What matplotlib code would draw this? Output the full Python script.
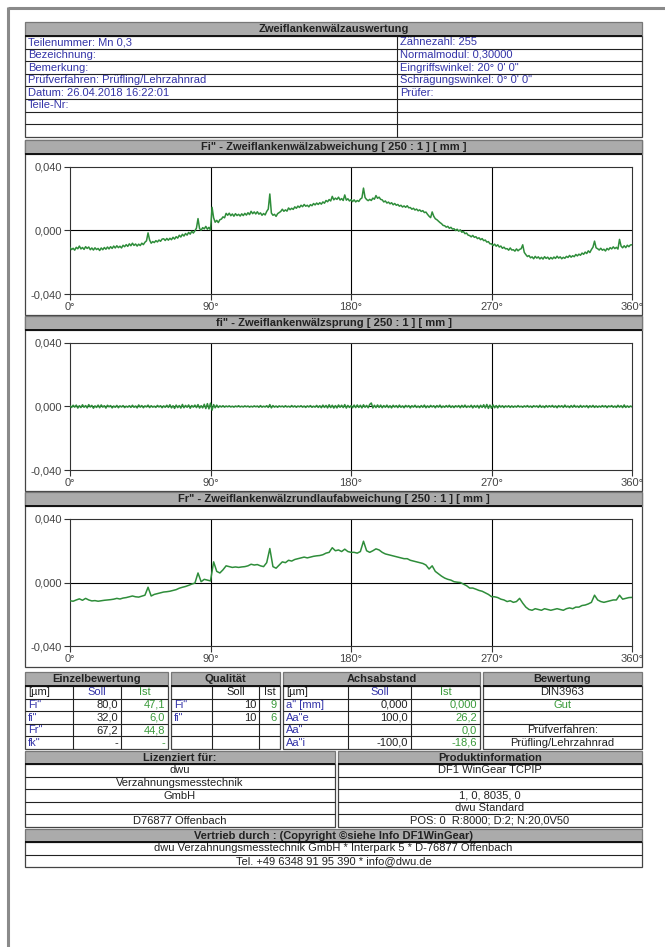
import numpy as np
import matplotlib.pyplot as plt
from matplotlib.patches import Rectangle

W, H = 665, 947

# Messwerte in µm
angle_fine = np.arange(0, 361, 1)
angle_coarse = np.arange(0, 361, 2)

# Fi" - Zweiflankenwälzabweichung, 1° Schritte
fi_total = [
    -10.8, -12.0, -11.2, -12.4, -10.6, -11.5, -9.8, -11.6, -10.7, -11.9,
    -10.2, -11.3, -10.4, -12.1, -11.0, -12.3, -10.9, -12.0, -11.3, -12.6,
    -11.0, -12.1, -10.7, -11.8, -10.4, -11.6, -10.2, -11.3, -9.8, -11.0,
    -9.6, -10.8, -9.9, -11.0, -9.3, -10.2, -8.9, -10.0, -8.4, -9.6,
    -8.0, -9.4, -8.5, -9.8, -8.6, -9.5, -8.0, -8.9, -7.4, -6.5,
    -1.5, -6.0, -8.0, -7.0, -7.6, -6.4, -7.2, -6.0, -6.8, -5.4,
    -5.2, -6.3, -5.0, -6.1, -4.9, -5.8, -4.3, -5.4, -3.9, -4.8,
    -3.0, -4.1, -2.4, -3.5, -1.9, -2.9, -1.2, -2.3, -0.5, -1.6,
    -0.2, 1.5, 7.5, 1.2, 0.2, 1.8, 1.0, 2.6, 0.8, 2.0,
    0.3, 14.6, 8.0, 5.2, 6.4, 5.0, 6.8, 7.2, 8.6, 8.0,
    10.8, 9.6, 10.9, 9.3, 10.4, 9.0, 10.6, 9.4, 10.2, 9.1,
    10.5, 9.4, 10.8, 9.7, 11.2, 10.0, 12.1, 10.6, 11.7, 10.4,
    11.8, 10.3, 11.1, 9.6, 10.7, 9.8, 12.0, 13.5, 23.0, 11.0,
    9.6, 10.2, 8.9, 10.6, 11.3, 12.0, 13.4, 12.1, 13.0, 12.2,
    14.2, 13.1, 14.0, 13.3, 14.9, 14.0, 15.4, 14.5, 15.9, 15.0,
    16.4, 15.3, 15.9, 14.9, 16.3, 15.6, 17.0, 16.1, 17.3, 16.4,
    17.5, 16.6, 18.0, 17.2, 18.9, 18.1, 19.5, 18.6, 21.5, 19.3,
    20.4, 19.6, 21.0, 19.2, 20.1, 18.9, 22.4, 19.1, 20.0, 18.6,
    19.4, 18.2, 19.3, 18.0, 18.9, 18.3, 19.8, 20.5, 26.7, 20.8,
    19.5, 18.8, 19.6, 18.9, 20.4, 19.7, 22.0, 20.3, 21.0, 19.6,
    19.3, 18.0, 18.6, 17.3, 17.9, 16.8, 17.5, 16.2, 17.0, 15.9,
    16.4, 15.3, 15.9, 14.8, 15.5, 14.6, 15.6, 14.3, 14.5, 13.4,
    14.0, 12.9, 13.5, 12.4, 13.0, 12.0, 12.5, 11.3, 11.6, 10.2,
    9.0, 8.1, 11.7, 9.0, 7.4, 6.8, 5.9, 5.0, 4.3, 3.2,
    3.0, 2.1, 2.6, 1.4, 2.0, 0.9, 1.1, 0.0, 0.8, -0.4,
    0.4, -1.1, -0.6, -2.0, -1.6, -2.9, -3.2, -4.0, -3.1, -4.3,
    -3.9, -5.1, -4.6, -5.8, -5.1, -6.4, -6.0, -7.3, -7.0, -8.4,
    -8.4, -9.5, -8.6, -9.9, -9.0, -10.4, -9.8, -11.2, -10.5, -11.6,
    -11.4, -12.4, -11.0, -12.3, -12.1, -13.0, -11.6, -12.8, -11.9, -11.5,
    -9.0, -13.8, -15.2, -16.4, -15.8, -17.2, -16.6, -17.8, -16.3, -17.4,
    -16.6, -17.9, -16.9, -18.0, -16.5, -17.6, -16.8, -18.1, -17.0, -17.9,
    -16.7, -17.6, -16.2, -17.4, -16.6, -17.8, -16.9, -17.5, -16.3, -17.0,
    -15.7, -16.8, -15.9, -16.5, -15.1, -16.0, -14.9, -15.6, -14.2, -15.0,
    -13.6, -14.5, -12.8, -13.9, -12.0, -10.5, -6.7, -10.9, -11.5, -12.3,
    -11.2, -12.4, -11.8, -12.9, -11.3, -12.2, -10.8, -11.6, -10.3, -11.4,
    -10.6, -11.7, -5.6, -9.8, -10.9, -9.6, -10.8, -9.3, -10.2, -9.1,
    -9.0,
]

# fi" - Zweiflankenwälzsprung, 1° Schritte
fi_jump = [
    0.3, -0.6, 0.8, -0.4, 0.9, -1.0, 0.5, -0.7, 1.1, -0.5,
    0.6, -0.9, 1.2, -0.3, 0.7, -1.1, 0.4, -0.6, 0.9, -0.8,
    1.0, -0.4, 0.5, -1.0, 0.8, -0.2, 0.6, -0.9, 0.3, -0.5,
    0.7, -0.8, 0.4, -0.3, 0.6, -0.7, 0.2, -0.4, 0.5, -0.6,
    0.8, -0.5, 0.3, -0.9, 1.0, -0.4, 0.6, -0.8, 0.4, -0.3,
    0.9, -0.7, 0.5, -0.4, 0.2, -0.6, 0.7, -0.3, 0.5, -0.8,
    0.4, -0.5, 0.8, -0.6, 1.1, -0.9, 0.5, -1.2, 0.9, -0.7,
    0.6, -1.0, 1.3, -0.8, 0.7, -0.5, 1.0, -1.1, 0.6, -0.4,
    0.9, -0.7, 1.2, -1.0, 0.5, -0.9, 1.4, -1.3, 1.8, -1.5,
    2.1, -2.3, 1.2, -0.8, 0.9, -0.6, 0.4, -0.3, 0.5, -0.4,
    0.3, -0.2, 0.4, -0.3, 0.2, -0.4, 0.3, -0.2, 0.5, -0.3,
    0.2, -0.3, 0.4, -0.2, 0.3, -0.4, 0.2, -0.3, 0.4, -0.2,
    0.3, -0.5, 0.6, -0.4, 0.2, -0.3, 0.5, -0.6, 1.2, -0.9,
    0.6, -0.4, 0.3, -0.5, 0.4, -0.2, 0.3, -0.4, 0.5, -0.3,
    0.2, -0.4, 0.6, -0.3, 0.4, -0.5, 0.3, -0.2, 0.5, -0.4,
    0.3, -0.6, 0.4, -0.3, 0.6, -0.5, 0.2, -0.4, 0.7, -0.6,
    0.5, -0.8, 0.9, -0.6, 0.7, -0.9, 1.1, -0.7, 0.8, -1.0,
    0.6, -0.9, 1.0, -0.5, 0.8, -0.7, 1.2, -1.0, 0.7, -0.6,
    0.5, -0.8, 0.9, -0.7, 1.0, -0.6, 0.8, -0.9, 1.1, -0.5,
    0.7, -0.8, 1.3, 2.2, -0.9, 0.8, -0.7, 1.0, -0.6, 0.9,
    -0.8, 0.6, -0.5, 0.9, -0.7, 0.5, -0.9, 0.8, -0.4, 0.6,
    -0.7, 0.9, -0.5, 0.4, -0.8, 0.7, -0.3, 0.6, -0.9, 0.5,
    -0.4, 0.8, -0.6, 0.3, -0.7, 0.6, -0.5, 0.9, -0.8, 0.4,
    -0.6, 0.7, -0.3, 0.5, -0.8, 0.6, -0.4, 0.9, -0.7, 0.3,
    -0.5, 0.6, -0.4, 0.8, -0.6, 0.4, -0.7, 0.5, -0.3, 0.6,
    -0.8, 0.7, -0.5, 0.9, -0.6, 0.3, -0.4, 0.8, -0.9, 0.6,
    -0.5, 0.7, -1.0, 0.8, -0.6, 1.1, -0.9, 1.3, -1.2, 0.9,
    -1.1, 1.0, -0.8, 0.6, -0.9, 0.7, -0.4, 0.5, -0.7, 0.4,
    -0.3, 0.5, -0.6, 0.4, -0.5, 0.3, -0.4, 0.6, -0.3, 0.2,
    -0.5, 0.4, -0.3, 0.6, -0.4, 0.3, -0.6, 0.5, -0.2, 0.4,
    -0.6, 0.8, -0.5, 0.3, -0.7, 0.6, -0.4, 0.5, -0.3, 0.7,
    -0.5, 0.4, -0.8, 0.6, -0.3, 0.5, -0.6, 0.9, -0.4, 0.3,
    -0.7, 0.6, -0.5, 0.8, -0.4, 0.3, -0.6, 0.7, -0.5, 0.4,
    -0.3, 0.6, -0.8, 0.5, -0.4, 0.7, -0.6, 0.4, -0.5, 0.3,
    -0.4, 0.6, -0.3, 0.5, -0.7, 0.4, -0.2, 0.6, -0.5, 0.3,
    -0.6, 0.8, -0.4, 0.5, -0.7, 1.0, -0.6, 0.4, -0.5, 0.3,
    -0.2,
]

# Fr" - Zweiflankenwälzrundlaufabweichung, 2° Schritte
fr_runout = [
    -11.5, -11.8, -11.0, -10.3, -11.2, -10.0, -11.0, -11.6, -11.4, -11.8,
    -11.5, -11.2, -11.0, -10.8, -10.5, -10.0, -10.4, -9.8, -9.5, -9.0,
    -8.5, -9.0, -9.2, -8.6, -8.0, -3.0, -8.5, -7.5, -7.0, -6.5,
    -6.0, -5.8, -5.5, -5.0, -4.5, -3.6, -3.0, -2.5, -1.8, -1.0,
    -0.4, 6.0, 0.5, 2.0, 1.5, 1.0, 13.0, 7.0, 6.0, 8.0,
    10.5, 10.0, 9.5, 9.8, 9.5, 9.8, 10.0, 10.5, 11.5, 11.0,
    11.3, 10.5, 10.0, 12.5, 21.4, 10.0, 9.0, 11.0, 13.0, 12.5,
    14.0, 13.5, 14.5, 15.0, 15.5, 16.0, 15.5, 16.0, 16.5, 16.8,
    17.0, 17.5, 18.5, 19.0, 21.9, 20.0, 20.5, 19.5, 21.0, 19.5,
    19.0, 19.0, 18.5, 19.5, 26.0, 20.0, 19.0, 20.0, 21.2, 20.5,
    19.0, 18.0, 17.5, 17.0, 16.5, 16.0, 15.5, 15.0, 15.0, 14.0,
    13.5, 13.0, 12.5, 12.0, 11.0, 8.5, 10.5, 7.0, 5.5, 4.0,
    2.8, 2.0, 1.5, 0.5, 0.2, 0.0, -1.0, -2.0, -3.5, -3.5,
    -4.2, -5.0, -5.5, -6.5, -7.5, -8.9, -9.0, -9.5, -10.5, -11.0,
    -12.0, -11.5, -12.5, -12.0, -10.0, -13.0, -15.5, -17.0, -17.5, -16.5,
    -17.0, -17.5, -16.5, -17.0, -17.5, -17.0, -16.5, -17.0, -17.5, -16.5,
    -16.0, -16.5, -15.5, -15.5, -14.5, -14.2, -13.5, -12.5, -8.0, -11.0,
    -12.0, -12.5, -12.0, -11.5, -11.0, -11.0, -8.0, -10.5, -10.0, -9.5,
    -9.4,
]

chart_titles = [
    'Fi" - Zweiflankenwälzabweichung [ 250 : 1 ] [ mm ]',
    'fi" - Zweiflankenwälzsprung [ 250 : 1 ] [ mm ]',
    'Fr" - Zweiflankenwälzrundlaufabweichung [ 250 : 1 ] [ mm ]',
]
angle_ticks = [0, 90, 180, 270, 360]
angle_labels = ['0°', '90°', '180°', '270°', '360°']
dev_ticks = [-0.04, 0.0, 0.04]
dev_labels = ['-0,040', '0,000', '0,040']

report_title = 'Zweiflankenwälzauswertung'
info_left = ['Teilenummer: Mn 0,3', 'Bezeichnung:', 'Bemerkung:',
             'Prüfverfahren: Prüfling/Lehrzahnrad', 'Datum: 26.04.2018 16:22:01',
             'Teile-Nr:', '', '']
info_right = ['Zähnezahl: 255', 'Normalmodul: 0,30000', 'Eingriffswinkel: 20° 0\' 0"',
              'Schrägungswinkel: 0° 0\' 0"', 'Prüfer:', '', '', '']

einzel_rows = [['[µm]', 'Soll', 'Ist'], ['Fi"', '80,0', '47,1'], ['fi"', '32,0', '6,0'],
               ['Fr"', '67,2', '44,8'], ['fk"', '-', '-']]
qualitaet_rows = [['', 'Soll', 'Ist'], ['Fi"', '10', '9'], ['fi"', '10', '6'],
                  ['', '', ''], ['', '', '']]
achs_rows = [['[µm]', 'Soll', 'Ist'], ['a" [mm]', '0,000', '0,000'], ['Aa"e', '100,0', '26,2'],
             ['Aa"', '', '0,0'], ['Aa"i', '-100,0', '-18,6']]
bewertung_rows = ['DIN3963', 'Gut', '', 'Prüfverfahren:', 'Prüfling/Lehrzahnrad']
lizenz_rows = ['dwu', 'Verzahnungsmesstechnik', 'GmbH', '', 'D76877 Offenbach']
produkt_rows = ['DF1 WinGear TCPIP', '', '1, 0, 8035, 0', 'dwu Standard',
                'POS: 0  R:8000; D:2; N:20,0V50']
vertrieb_rows = ['dwu Verzahnungsmesstechnik GmbH * Interpark 5 * D-76877 Offenbach',
                 'Tel. +49 6348 91 95 390 * info@dwu.de']

BLUE = '#3434a8'
GREEN = '#3a9a3a'
BLACK = '#222222'
TRACE = '#2e8d3a'
BAR = '#ababab'
FONT = ['Liberation Sans', 'DejaVu Sans']
FS = 8

fig = plt.figure(figsize=(W / 100, H / 100), dpi=100)
bg = fig.add_axes([0, 0, 1, 1])
bg.set_xlim(0, W)
bg.set_ylim(H, 0)
bg.axis('off')


def txt(x, y, s, ha='left', color=BLACK, bold=False, size=FS):
    if s:
        bg.text(x, y, s, ha=ha, va='center', color=color, fontsize=size,
                fontweight='bold' if bold else 'normal', family=FONT)


def box(x0, y0, x1, y1, fc='white', ec='#444444', lw=0.9):
    bg.add_patch(Rectangle((x0, y0), x1 - x0, y1 - y0, facecolor=fc, edgecolor=ec, lw=lw))


def hline(x0, x1, y, c=BLACK, lw=0.8):
    bg.plot([x0, x1], [y, y], color=c, lw=lw, solid_capstyle='butt')


def vline(x, y0, y1, c=BLACK, lw=0.8):
    bg.plot([x, x], [y0, y1], color=c, lw=lw, solid_capstyle='butt')


def header(x0, x1, y0, y1, s):
    box(x0, y0, x1, y1, fc=BAR, ec='#777777')
    hline(x0, x1, y1, c='#111111', lw=1.4)
    txt((x0 + x1) / 2, (y0 + y1) / 2, s, ha='center', bold=True)


# Seitenrand
hline(8, W, 7.5, c='#8a8a8a', lw=2.2)
vline(8, 7, H, c='#8a8a8a', lw=2.2)

L, R = 25, 642

# Kopf mit Teiledaten
header(L, R, 22, 36, report_title)
row_h = 12.6
box(L, 36, R, 36 + 8 * row_h)
vline(397, 36, 36 + 8 * row_h)
for i in range(8):
    y = 36 + i * row_h
    if i:
        hline(L, R, y)
    txt(L + 3, y + row_h / 2, info_left[i], color=BLUE)
    txt(400, y + row_h / 2, info_right[i], color=BLUE)

# Diagramme
series = [(angle_fine, fi_total), (angle_fine, fi_jump), (angle_coarse, fr_runout)]
for k, (ang, vals) in enumerate(series):
    top = 140 + k * 176
    box(L, top, R, top + 175)
    header(L, R, top, top + 14, chart_titles[k])
    ax0, ax1, ay0, ay1 = 70, 632, top + 27, top + 154
    ax = fig.add_axes([ax0 / W, 1 - ay1 / H, (ax1 - ax0) / W, (ay1 - ay0) / H])
    ax.set_facecolor('white')
    ax.plot(ang, np.array(vals) / 1000, color=TRACE, lw=1.1, zorder=3)
    for a in angle_ticks[1:-1]:
        ax.axvline(a, color='black', lw=0.8, zorder=2)
    ax.axhline(0, color='black', lw=0.8, zorder=2)
    ax.set_xlim(0, 360)
    ax.set_ylim(-0.04, 0.04)
    ax.set_xticks(angle_ticks)
    ax.set_xticklabels(angle_labels)
    ax.set_yticks(dev_ticks)
    ax.set_yticklabels(dev_labels)
    ax.tick_params(direction='out', length=4, width=0.8, colors='#333333',
                   labelsize=FS, pad=2)
    for lab in ax.get_xticklabels() + ax.get_yticklabels():
        lab.set_family(FONT)
        lab.set_color('#444444')
    for sp in ax.spines.values():
        sp.set_color('#333333')
        sp.set_linewidth(0.8)

# Auswertungstabellen
ty0, ty1 = 672, 686
rh = 12.6


def table(cols, title, rows, styles):
    header(cols[0], cols[-1], ty0, ty1, title)
    box(cols[0], ty1, cols[-1], ty1 + 5 * rh)
    for c in cols[1:-1]:
        vline(c, ty1, ty1 + 5 * rh)
    for i, row in enumerate(rows):
        y = ty1 + i * rh
        if i:
            hline(cols[0], cols[-1], y)
        for j, s in enumerate(row):
            color = styles[i][j]
            if j == 0:
                txt(cols[0] + 3, y + rh / 2, s, color=color)
            elif i == 0:
                txt((cols[j] + cols[j + 1]) / 2, y + rh / 2, s, ha='center', color=color)
            else:
                txt(cols[j + 1] - 3, y + rh / 2, s, ha='right', color=color)


einz_styles = [[BLACK, BLUE, GREEN]] + [[BLUE, BLACK, GREEN]] * 4
table([25, 73, 121, 168], 'Einzelbewertung', einzel_rows, einz_styles)
qual_styles = [[BLACK, BLACK, BLACK]] + [[BLUE, BLACK, GREEN]] * 4
table([171, 212, 259, 280], 'Qualität', qualitaet_rows, qual_styles)
achs_styles = [[BLACK, BLUE, GREEN]] + [[BLUE, BLACK, GREEN]] * 4
table([283, 348, 411, 480], 'Achsabstand', achs_rows, achs_styles)

header(483, R, ty0, ty1, 'Bewertung')
box(483, ty1, R, ty1 + 5 * rh)
for i, s in enumerate(bewertung_rows):
    y = ty1 + i * rh
    if i:
        hline(483, R, y)
    txt((483 + R) / 2, y + rh / 2, s, ha='center', color=GREEN if s == 'Gut' else BLACK)

# Lizenz und Produktinformation
ly0, ly1 = 751, 764
for (x0, x1), title, rows in [((L, 335), 'Lizenziert für:', lizenz_rows),
                              ((338, R), 'Produktinformation', produkt_rows)]:
    header(x0, x1, ly0, ly1, title)
    box(x0, ly1, x1, ly1 + 5 * rh)
    for i, s in enumerate(rows):
        y = ly1 + i * rh
        if i:
            hline(x0, x1, y)
        txt((x0 + x1) / 2, y + rh / 2, s, ha='center')

vy0, vy1 = 829, 842
header(L, R, vy0, vy1, 'Vertrieb durch : (Copyright ©siehe Info DF1WinGear)')
box(L, vy1, R, vy1 + 2 * rh)
for i, s in enumerate(vertrieb_rows):
    y = vy1 + i * rh
    if i:
        hline(L, R, y)
    txt((L + R) / 2, y + rh / 2, s, ha='center')

fig.savefig('out.png', dpi=100)
